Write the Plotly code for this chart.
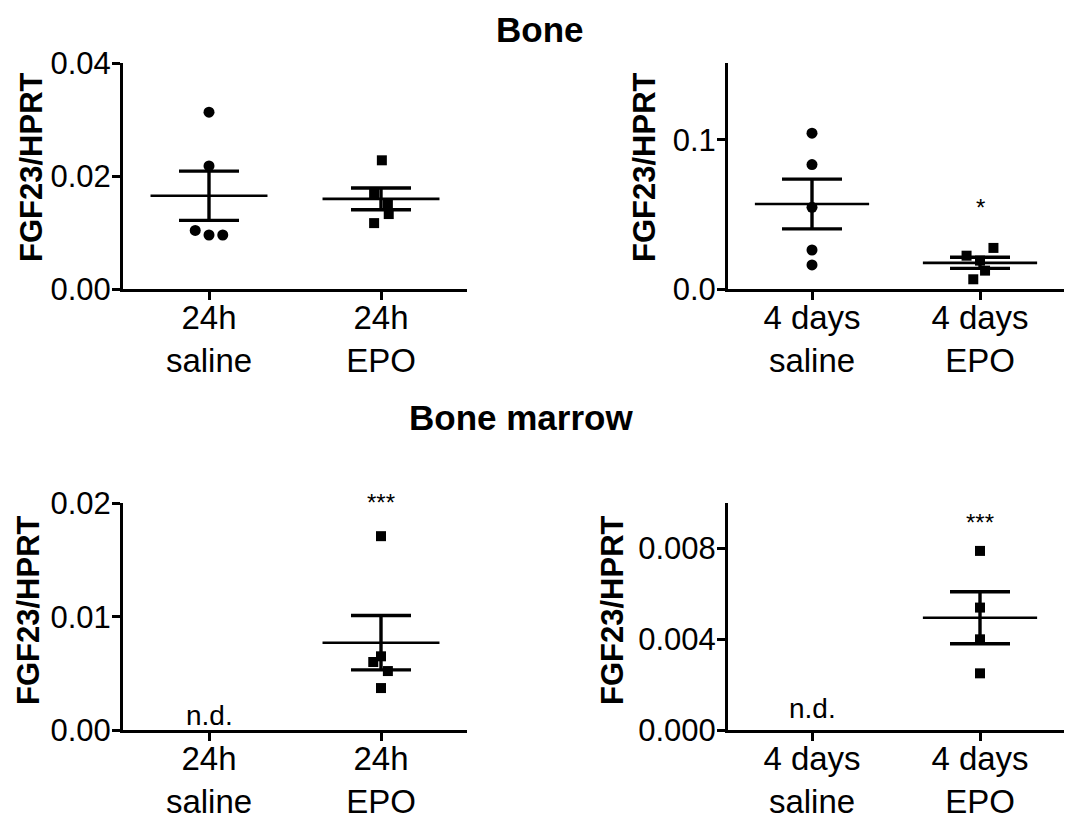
import numpy as np
import plotly.graph_objects as go

# FGF23/HPRT expression of individual animals
bone_24h_saline = [0.0313, 0.0218, 0.0104, 0.0096, 0.0096]
bone_24h_epo = [0.0228, 0.0169, 0.0152, 0.0133, 0.0117]
bone_4d_saline = [0.1045, 0.0835, 0.0549, 0.0263, 0.0163]
bone_4d_epo = [0.0277, 0.0225, 0.0192, 0.0125, 0.0067]
marrow_24h_epo = [0.0171, 0.0065, 0.0060, 0.0052, 0.0037]
marrow_4d_epo = [0.0079, 0.0054, 0.0040, 0.0025]

labels_24h = ["24h<br>saline", "24h<br>EPO"]
labels_4d = ["4 days<br>saline", "4 days<br>EPO"]

bone_24h_ticks = [0.0, 0.02, 0.04]
bone_4d_ticks = [0.0, 0.1]
marrow_24h_ticks = [0.0, 0.01, 0.02]
marrow_4d_ticks = [0.0, 0.004, 0.008]

FONT = "Liberation Sans, Arial, sans-serif"
W, H = 1074, 826


def xdom(a, b):
    return [a / W, b / W]


def ydom(bottom, top):
    return [1 - bottom / H, 1 - top / H]


# panel layout: axes, domains, ranges, groups (values, category, marker, horizontal spread)
panels = [
    dict(ax="", xd=xdom(123, 467), yd=ydom(289.3, 63), yr=[0, 0.04],
         ticks=bone_24h_ticks, fmt="{:.2f}", cats=labels_24h,
         groups=[(bone_24h_saline, 0, "circle", [0, 0, -0.08, 0, 0.08]),
                 (bone_24h_epo, 1, "square", [0.005, -0.04, 0.04, 0.045, -0.04])]),
    dict(ax="2", xd=xdom(728, 1064), yd=ydom(289.3, 63), yr=[0, 0.1515],
         ticks=bone_4d_ticks, fmt="{:.1f}", cats=labels_4d,
         groups=[(bone_4d_saline, 0, "circle", [0, 0, 0, 0, 0]),
                 (bone_4d_epo, 1, "square", [0.08, -0.08, 0.0, 0.03, -0.04])]),
    dict(ax="3", xd=xdom(123, 467), yd=ydom(730, 503.3), yr=[0, 0.02],
         ticks=marrow_24h_ticks, fmt="{:.2f}", cats=labels_24h,
         groups=[(marrow_24h_epo, 1, "square", [0, 0, -0.045, 0.04, 0])]),
    dict(ax="4", xd=xdom(728, 1064), yd=ydom(730, 503.3), yr=[0, 0.01],
         ticks=marrow_4d_ticks, fmt="{:.3f}", cats=labels_4d,
         groups=[(marrow_4d_epo, 1, "square", [0, 0, 0, 0])]),
]

fig = go.Figure()
layout = dict(
    width=W, height=H, margin=dict(l=0, r=0, t=0, b=0, pad=0, autoexpand=False),
    paper_bgcolor="white", plot_bgcolor="white", showlegend=False,
    font=dict(family=FONT, color="black"),
)

annotations = []
for p in panels:
    xa, ya = "x" + p["ax"], "y" + p["ax"]
    for vals, cat, sym, spread in p["groups"]:
        v = np.asarray(vals)
        fig.add_trace(go.Scatter(
            x=cat + np.asarray(spread), y=v, mode="markers", xaxis=xa, yaxis=ya,
            marker=dict(symbol=sym, size=10 if sym == "square" else 11, color="black",
                        line=dict(width=0)),
            cliponaxis=False, hoverinfo="skip"))
        mean = v.mean()
        sem = v.std(ddof=1) / np.sqrt(len(v))
        # mean line
        fig.add_trace(go.Scatter(
            x=[cat - 0.34, cat + 0.34], y=[mean, mean], mode="lines",
            xaxis=xa, yaxis=ya, line=dict(color="black", width=2.6), hoverinfo="skip"))
        # SEM whiskers
        fig.add_trace(go.Scatter(
            x=[cat], y=[mean], mode="markers", xaxis=xa, yaxis=ya,
            marker=dict(size=1, color="rgba(0,0,0,0)"),
            error_y=dict(type="data", array=[sem], symmetric=True, color="black",
                         thickness=3.4, width=30),
            hoverinfo="skip"))

    axis_common = dict(showline=True, linewidth=3, linecolor="black", ticks="outside",
                       ticklen=8, tickwidth=3, tickcolor="black", showgrid=False,
                       zeroline=False, automargin=False)
    layout["xaxis" + p["ax"]] = dict(
        axis_common, domain=p["xd"], range=[-0.5, 1.5], tickvals=[0, 1],
        ticktext=p["cats"], anchor=ya, fixedrange=True, ticklabelstandoff=-11,
        tickfont=dict(family=FONT, size=33, color="black"))
    layout["yaxis" + p["ax"]] = dict(
        axis_common, domain=p["yd"], range=p["yr"], tickvals=p["ticks"],
        ticktext=[p["fmt"].format(t) for t in p["ticks"]], anchor=xa, fixedrange=True,
        ticklabelstandoff=-5, tickfont=dict(family=FONT, size=31, color="black"))

# y axis titles
for xc, yc in [(31, 167), (644, 167), (28, 610), (612, 610)]:
    annotations.append(dict(
        text="<b>FGF23/HPRT</b>", textangle=-90, x=xc / W, y=1 - yc / H,
        xref="paper", yref="paper", showarrow=False, xanchor="center", yanchor="middle",
        font=dict(family=FONT, size=31, color="black")))

# section titles
annotations.append(dict(text="<b>Bone</b>", x=540 / W, y=1 - 29 / H, xref="paper",
                        yref="paper", showarrow=False, xanchor="center", yanchor="middle",
                        font=dict(family=FONT, size=35, color="black")))
annotations.append(dict(text="<b>Bone marrow</b>", x=521 / W, y=1 - 417 / H,
                        xref="paper", yref="paper", showarrow=False,
                        xanchor="center", yanchor="middle",
                        font=dict(family=FONT, size=35, color="black")))

# significance marks and not-detected labels (y given as fraction of the panel height)
for txt, xa, ya, xv, yf, size in [
    ("*", "x2", "y2 domain", 1, 0.36, 24),
    ("***", "x3", "y3 domain", 1, 1.003, 24),
    ("***", "x4", "y4 domain", 1, 0.915, 24),
    ("n.d.", "x3", "y3 domain", 0, 0.065, 28),
    ("n.d.", "x4", "y4 domain", 0, 0.097, 28),
]:
    annotations.append(dict(text=txt, x=xv, y=yf, xref=xa, yref=ya, showarrow=False,
                            xanchor="center", yanchor="middle",
                            font=dict(family=FONT, size=size, color="black")))

layout["annotations"] = annotations
fig.update_layout(**layout)
fig.write_html("out.html")
